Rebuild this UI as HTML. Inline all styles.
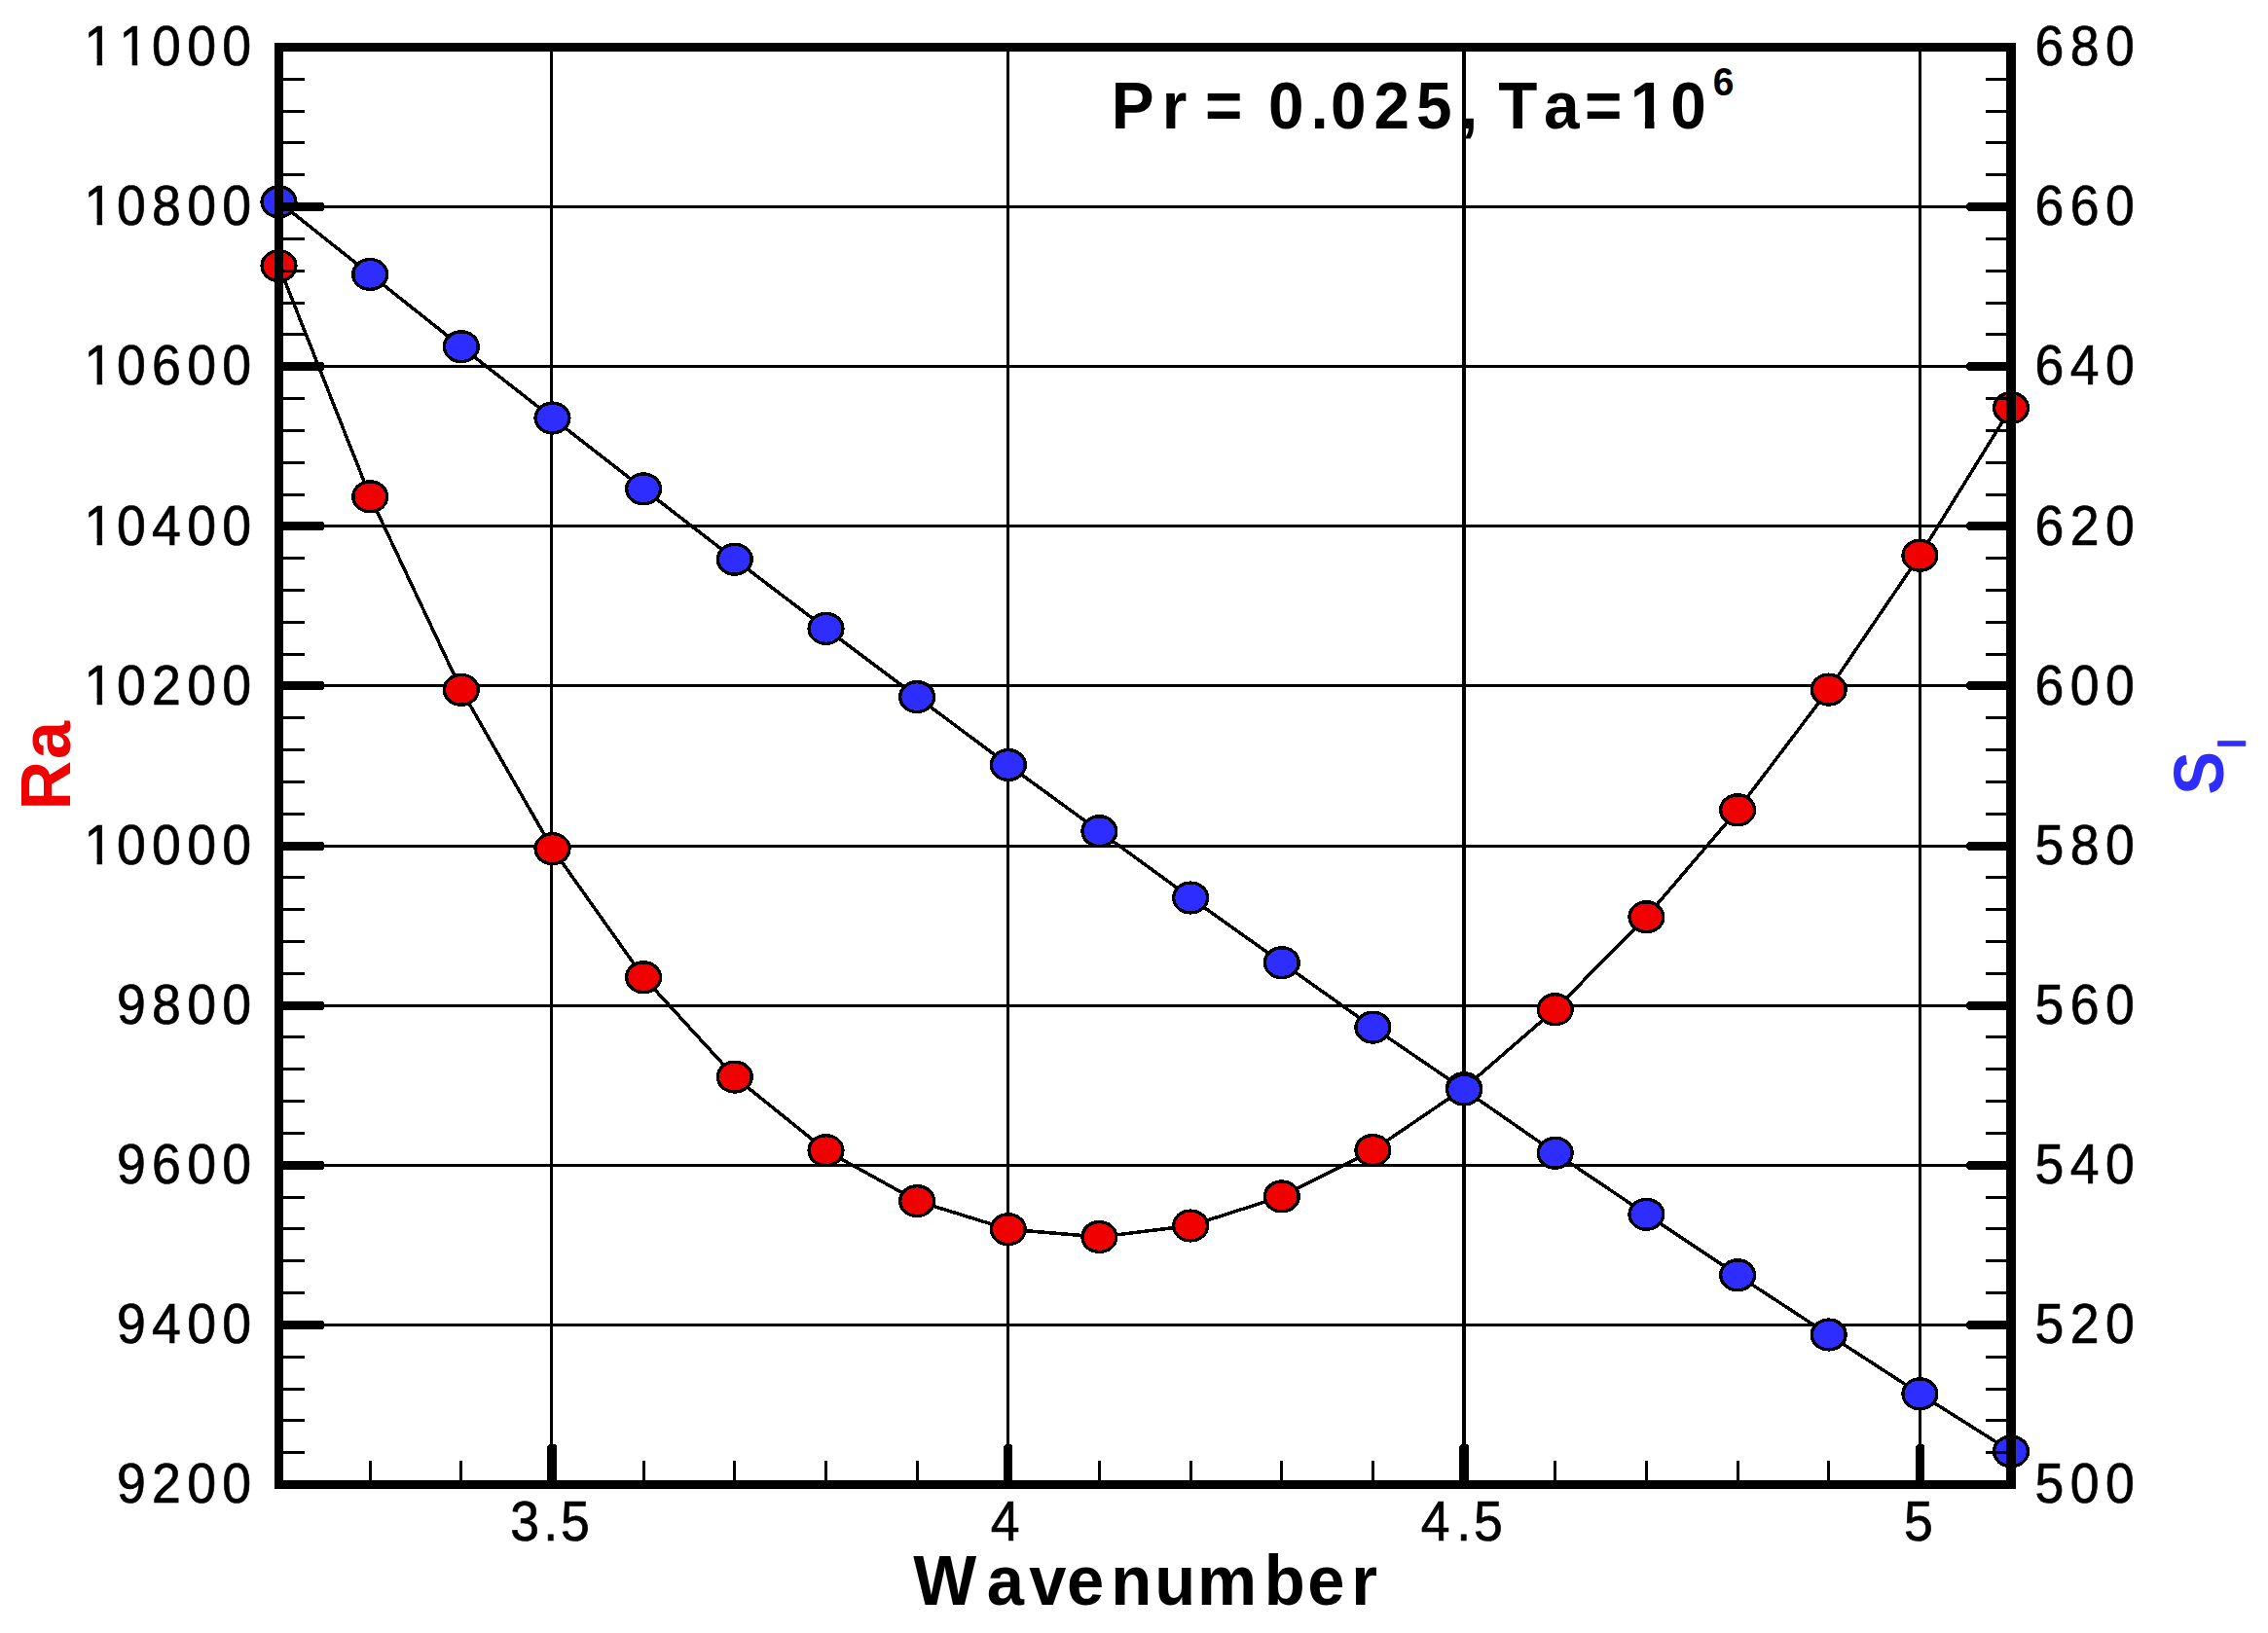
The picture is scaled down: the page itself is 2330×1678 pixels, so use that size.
<!DOCTYPE html>
<html lang="en"><head><meta charset="utf-8"><title>Ra and S_I versus Wavenumber</title>
<style>html,body{margin:0;padding:0;background:#fff;overflow:hidden}svg{display:block}text{font-family:"Liberation Sans",sans-serif;white-space:pre}.t{font-size:58px;fill:#000;stroke:#000;stroke-width:0.7px}.b{font-weight:bold}</style></head><body>
<svg width="2330" height="1678" viewBox="0 0 2330 1678">
<rect width="2330" height="1678" fill="#fff"/>
<defs>
<clipPath id="c1"><rect x="-10" y="-60" width="300" height="53.8"/><rect x="34.64" y="-8" width="300" height="14"/><rect x="13.94" y="-8" width="5.83" height="10"/></clipPath>
<clipPath id="c11"><rect x="-10" y="-60" width="300" height="53.8"/><rect x="73.04" y="-8" width="300" height="14"/><rect x="13.94" y="-8" width="5.83" height="10"/><rect x="52.34" y="-8" width="5.83" height="10"/></clipPath>
</defs>
<g fill="#000" shape-rendering="crispEdges">
<rect x="291" y="211" width="1770" height="3"/>
<rect x="291" y="375" width="1770" height="3"/>
<rect x="291" y="539" width="1770" height="3"/>
<rect x="291" y="703" width="1770" height="3"/>
<rect x="291" y="868" width="1770" height="3"/>
<rect x="291" y="1032" width="1770" height="3"/>
<rect x="291" y="1196" width="1770" height="3"/>
<rect x="291" y="1360" width="1770" height="3"/>
<rect x="565" y="53" width="3" height="1468"/>
<rect x="1034" y="53" width="3" height="1468"/>
<rect x="1502" y="53" width="4" height="1468"/>
<rect x="1971" y="53" width="3" height="1468"/>
</g>
<g fill="none" stroke="#000" stroke-width="3.5" stroke-linejoin="round" shape-rendering="crispEdges">
<polyline points="286.5,273.1 380.2,510.3 473.8,708.8 567.5,872.1 661.1,1004.2 754.8,1106.6 848.5,1182.2 942.1,1234.1 1035.8,1263.2 1129.4,1271.0 1223.1,1259.5 1316.8,1229.4 1410.4,1182.0 1504.1,1118.2 1597.7,1037.2 1691.4,942.2 1785.1,832.3 1878.7,708.6 1972.4,570.7 2066.0,419.1"/>
<polyline points="286.5,207.4 380.2,281.9 473.8,356.2 567.5,429.5 661.1,502.4 754.8,574.7 848.5,645.9 942.1,716.1 1035.8,786.0 1129.4,854.2 1223.1,922.5 1316.8,989.2 1410.4,1055.6 1504.1,1119.6 1597.7,1184.7 1691.4,1247.8 1785.1,1310.3 1878.7,1371.5 1972.4,1432.3 2066.0,1491.4"/>
</g>
<g stroke="#000" stroke-width="3.4" fill="#f00000" shape-rendering="crispEdges">
<ellipse cx="286.5" cy="273.1" rx="17.4" ry="15.4"/>
<ellipse cx="380.2" cy="510.3" rx="17.4" ry="15.4"/>
<ellipse cx="473.8" cy="708.8" rx="17.4" ry="15.4"/>
<ellipse cx="567.5" cy="872.1" rx="17.4" ry="15.4"/>
<ellipse cx="661.1" cy="1004.2" rx="17.4" ry="15.4"/>
<ellipse cx="754.8" cy="1106.6" rx="17.4" ry="15.4"/>
<ellipse cx="848.5" cy="1182.2" rx="17.4" ry="15.4"/>
<ellipse cx="942.1" cy="1234.1" rx="17.4" ry="15.4"/>
<ellipse cx="1035.8" cy="1263.2" rx="17.4" ry="15.4"/>
<ellipse cx="1129.4" cy="1271.0" rx="17.4" ry="15.4"/>
<ellipse cx="1223.1" cy="1259.5" rx="17.4" ry="15.4"/>
<ellipse cx="1316.8" cy="1229.4" rx="17.4" ry="15.4"/>
<ellipse cx="1410.4" cy="1182.0" rx="17.4" ry="15.4"/>
<ellipse cx="1504.1" cy="1118.2" rx="17.4" ry="15.4"/>
<ellipse cx="1597.7" cy="1037.2" rx="17.4" ry="15.4"/>
<ellipse cx="1691.4" cy="942.2" rx="17.4" ry="15.4"/>
<ellipse cx="1785.1" cy="832.3" rx="17.4" ry="15.4"/>
<ellipse cx="1878.7" cy="708.6" rx="17.4" ry="15.4"/>
<ellipse cx="1972.4" cy="570.7" rx="17.4" ry="15.4"/>
<ellipse cx="2066.0" cy="419.1" rx="17.4" ry="15.4"/>
</g>
<g stroke="#000" stroke-width="3.4" fill="#2d2dff" shape-rendering="crispEdges">
<ellipse cx="286.5" cy="207.4" rx="17.4" ry="15.4"/>
<ellipse cx="380.2" cy="281.9" rx="17.4" ry="15.4"/>
<ellipse cx="473.8" cy="356.2" rx="17.4" ry="15.4"/>
<ellipse cx="567.5" cy="429.5" rx="17.4" ry="15.4"/>
<ellipse cx="661.1" cy="502.4" rx="17.4" ry="15.4"/>
<ellipse cx="754.8" cy="574.7" rx="17.4" ry="15.4"/>
<ellipse cx="848.5" cy="645.9" rx="17.4" ry="15.4"/>
<ellipse cx="942.1" cy="716.1" rx="17.4" ry="15.4"/>
<ellipse cx="1035.8" cy="786.0" rx="17.4" ry="15.4"/>
<ellipse cx="1129.4" cy="854.2" rx="17.4" ry="15.4"/>
<ellipse cx="1223.1" cy="922.5" rx="17.4" ry="15.4"/>
<ellipse cx="1316.8" cy="989.2" rx="17.4" ry="15.4"/>
<ellipse cx="1410.4" cy="1055.6" rx="17.4" ry="15.4"/>
<ellipse cx="1504.1" cy="1119.6" rx="17.4" ry="15.4"/>
<ellipse cx="1597.7" cy="1184.7" rx="17.4" ry="15.4"/>
<ellipse cx="1691.4" cy="1247.8" rx="17.4" ry="15.4"/>
<ellipse cx="1785.1" cy="1310.3" rx="17.4" ry="15.4"/>
<ellipse cx="1878.7" cy="1371.5" rx="17.4" ry="15.4"/>
<ellipse cx="1972.4" cy="1432.3" rx="17.4" ry="15.4"/>
<ellipse cx="2066.0" cy="1491.4" rx="17.4" ry="15.4"/>
</g>
<g fill="#000" shape-rendering="crispEdges">
<rect x="282" y="44" width="1789" height="9"/>
<rect x="282" y="1521" width="1789" height="9"/>
<rect x="282" y="44" width="9" height="1486"/>
<rect x="2061" y="44" width="10" height="1486"/>
<rect x="291" y="80" width="22" height="3"/>
<rect x="2040" y="80" width="21" height="3"/>
<rect x="291" y="113" width="22" height="3"/>
<rect x="2040" y="113" width="21" height="3"/>
<rect x="291" y="145" width="22" height="3"/>
<rect x="2040" y="145" width="21" height="3"/>
<rect x="291" y="178" width="22" height="3"/>
<rect x="2040" y="178" width="21" height="3"/>
<polygon points="291,208 331,208 333,210 333,215 331,217 291,217"/>
<polygon points="2061,208 2022,208 2020,210 2020,215 2022,217 2061,217"/>
<rect x="291" y="244" width="22" height="3"/>
<rect x="2040" y="244" width="21" height="3"/>
<rect x="291" y="277" width="22" height="3"/>
<rect x="2040" y="277" width="21" height="3"/>
<rect x="291" y="310" width="22" height="3"/>
<rect x="2040" y="310" width="21" height="3"/>
<rect x="291" y="342" width="22" height="3"/>
<rect x="2040" y="342" width="21" height="3"/>
<polygon points="291,372 331,372 333,374 333,379 331,381 291,381"/>
<polygon points="2061,372 2022,372 2020,374 2020,379 2022,381 2061,381"/>
<rect x="291" y="408" width="22" height="3"/>
<rect x="2040" y="408" width="21" height="3"/>
<rect x="291" y="441" width="22" height="3"/>
<rect x="2040" y="441" width="21" height="3"/>
<rect x="291" y="474" width="22" height="3"/>
<rect x="2040" y="474" width="21" height="3"/>
<rect x="291" y="507" width="22" height="3"/>
<rect x="2040" y="507" width="21" height="3"/>
<polygon points="291,536 331,536 333,538 333,543 331,545 291,545"/>
<polygon points="2061,536 2022,536 2020,538 2020,543 2022,545 2061,545"/>
<rect x="291" y="572" width="22" height="3"/>
<rect x="2040" y="572" width="21" height="3"/>
<rect x="291" y="605" width="22" height="3"/>
<rect x="2040" y="605" width="21" height="3"/>
<rect x="291" y="638" width="22" height="3"/>
<rect x="2040" y="638" width="21" height="3"/>
<rect x="291" y="671" width="22" height="3"/>
<rect x="2040" y="671" width="21" height="3"/>
<polygon points="291,700 331,700 333,702 333,707 331,709 291,709"/>
<polygon points="2061,700 2022,700 2020,702 2020,707 2022,709 2061,709"/>
<rect x="291" y="736" width="22" height="3"/>
<rect x="2040" y="736" width="21" height="3"/>
<rect x="291" y="769" width="22" height="3"/>
<rect x="2040" y="769" width="21" height="3"/>
<rect x="291" y="802" width="22" height="3"/>
<rect x="2040" y="802" width="21" height="3"/>
<rect x="291" y="835" width="22" height="3"/>
<rect x="2040" y="835" width="21" height="3"/>
<polygon points="291,865 331,865 333,867 333,872 331,874 291,874"/>
<polygon points="2061,865 2022,865 2020,867 2020,872 2022,874 2061,874"/>
<rect x="291" y="900" width="22" height="3"/>
<rect x="2040" y="900" width="21" height="3"/>
<rect x="291" y="933" width="22" height="3"/>
<rect x="2040" y="933" width="21" height="3"/>
<rect x="291" y="966" width="22" height="3"/>
<rect x="2040" y="966" width="21" height="3"/>
<rect x="291" y="999" width="22" height="3"/>
<rect x="2040" y="999" width="21" height="3"/>
<polygon points="291,1029 331,1029 333,1031 333,1036 331,1038 291,1038"/>
<polygon points="2061,1029 2022,1029 2020,1031 2020,1036 2022,1038 2061,1038"/>
<rect x="291" y="1064" width="22" height="3"/>
<rect x="2040" y="1064" width="21" height="3"/>
<rect x="291" y="1097" width="22" height="3"/>
<rect x="2040" y="1097" width="21" height="3"/>
<rect x="291" y="1130" width="22" height="3"/>
<rect x="2040" y="1130" width="21" height="3"/>
<rect x="291" y="1163" width="22" height="3"/>
<rect x="2040" y="1163" width="21" height="3"/>
<polygon points="291,1193 331,1193 333,1195 333,1200 331,1202 291,1202"/>
<polygon points="2061,1193 2022,1193 2020,1195 2020,1200 2022,1202 2061,1202"/>
<rect x="291" y="1229" width="22" height="3"/>
<rect x="2040" y="1229" width="21" height="3"/>
<rect x="291" y="1261" width="22" height="3"/>
<rect x="2040" y="1261" width="21" height="3"/>
<rect x="291" y="1294" width="22" height="3"/>
<rect x="2040" y="1294" width="21" height="3"/>
<rect x="291" y="1327" width="22" height="3"/>
<rect x="2040" y="1327" width="21" height="3"/>
<polygon points="291,1357 331,1357 333,1359 333,1364 331,1366 291,1366"/>
<polygon points="2061,1357 2022,1357 2020,1359 2020,1364 2022,1366 2061,1366"/>
<rect x="291" y="1393" width="22" height="3"/>
<rect x="2040" y="1393" width="21" height="3"/>
<rect x="291" y="1426" width="22" height="3"/>
<rect x="2040" y="1426" width="21" height="3"/>
<rect x="291" y="1458" width="22" height="3"/>
<rect x="2040" y="1458" width="21" height="3"/>
<rect x="291" y="1491" width="22" height="3"/>
<rect x="2040" y="1491" width="21" height="3"/>
<rect x="379" y="1501" width="3" height="20"/>
<rect x="472" y="1501" width="3" height="20"/>
<polygon points="562,1521 562,1486 564,1484 570,1484 572,1486 572,1521"/>
<rect x="660" y="1501" width="3" height="20"/>
<rect x="753" y="1501" width="3" height="20"/>
<rect x="847" y="1501" width="3" height="20"/>
<rect x="941" y="1501" width="3" height="20"/>
<polygon points="1031,1521 1031,1486 1033,1484 1038,1484 1040,1486 1040,1521"/>
<rect x="1128" y="1501" width="3" height="20"/>
<rect x="1222" y="1501" width="3" height="20"/>
<rect x="1315" y="1501" width="3" height="20"/>
<rect x="1409" y="1501" width="3" height="20"/>
<polygon points="1499,1521 1499,1486 1501,1484 1507,1484 1509,1486 1509,1521"/>
<rect x="1596" y="1501" width="3" height="20"/>
<rect x="1690" y="1501" width="3" height="20"/>
<rect x="1784" y="1501" width="3" height="20"/>
<rect x="1877" y="1501" width="3" height="20"/>
<polygon points="1968,1521 1968,1486 1970,1484 1975,1484 1977,1486 1977,1521"/>
</g>
<g class="t">
<text class="t" style="font-size:57px" transform="translate(86.5,67.2) scale(0.94,1)" x="0.0 38.4 74.0 112.4 150.9" y="0" clip-path="url(#c11)">11000</text>
<text class="t" style="font-size:57px" transform="translate(86.5,231.3) scale(0.94,1)" x="0.0 35.6 74.0 112.4 150.9" y="0" clip-path="url(#c1)">10800</text>
<text class="t" style="font-size:57px" transform="translate(86.5,395.4) scale(0.94,1)" x="0.0 35.6 74.0 112.4 150.9" y="0" clip-path="url(#c1)">10600</text>
<text class="t" style="font-size:57px" transform="translate(86.5,559.5) scale(0.94,1)" x="0.0 35.6 74.0 112.4 150.9" y="0" clip-path="url(#c1)">10400</text>
<text class="t" style="font-size:57px" transform="translate(86.5,723.6) scale(0.94,1)" x="0.0 35.6 74.0 112.4 150.9" y="0" clip-path="url(#c1)">10200</text>
<text class="t" style="font-size:57px" transform="translate(86.5,887.7) scale(0.94,1)" x="0.0 35.6 74.0 112.4 150.9" y="0" clip-path="url(#c1)">10000</text>
<text class="t" style="font-size:57px" transform="translate(120.0,1051.8) scale(0.94,1)" x="0.0 38.4 76.8 115.2" y="0">9800</text>
<text class="t" style="font-size:57px" transform="translate(120.0,1215.9) scale(0.94,1)" x="0.0 38.4 76.8 115.2" y="0">9600</text>
<text class="t" style="font-size:57px" transform="translate(120.0,1380.0) scale(0.94,1)" x="0.0 38.4 76.8 115.2" y="0">9400</text>
<text class="t" style="font-size:57px" transform="translate(120.0,1544.1) scale(0.94,1)" x="0.0 38.4 76.8 115.2" y="0">9200</text>
<text class="t" style="font-size:57px" transform="translate(2090.4,67.2) scale(0.94,1)" x="0.0 38.6 77.2" y="0">680</text>
<text class="t" style="font-size:57px" transform="translate(2090.4,231.3) scale(0.94,1)" x="0.0 38.6 77.2" y="0">660</text>
<text class="t" style="font-size:57px" transform="translate(2090.4,395.4) scale(0.94,1)" x="0.0 38.6 77.2" y="0">640</text>
<text class="t" style="font-size:57px" transform="translate(2090.4,559.5) scale(0.94,1)" x="0.0 38.6 77.2" y="0">620</text>
<text class="t" style="font-size:57px" transform="translate(2090.4,723.6) scale(0.94,1)" x="0.0 38.6 77.2" y="0">600</text>
<text class="t" style="font-size:57px" transform="translate(2090.4,887.7) scale(0.94,1)" x="0.0 38.6 77.2" y="0">580</text>
<text class="t" style="font-size:57px" transform="translate(2090.4,1051.8) scale(0.94,1)" x="0.0 38.6 77.2" y="0">560</text>
<text class="t" style="font-size:57px" transform="translate(2090.4,1215.9) scale(0.94,1)" x="0.0 38.6 77.2" y="0">540</text>
<text class="t" style="font-size:57px" transform="translate(2090.4,1380.0) scale(0.94,1)" x="0.0 38.6 77.2" y="0">520</text>
<text class="t" style="font-size:57px" transform="translate(2090.4,1544.1) scale(0.94,1)" x="0.0 38.6 77.2" y="0">500</text>
<text class="t" style="font-size:57px" transform="translate(524.2,1583.2) scale(0.94,1)" x="0.0 36.3 55.2" y="0">3.5</text>
<text class="t" style="font-size:57px" transform="translate(1017.8,1583.2) scale(0.94,1)" x="0.0" y="0">4</text>
<text class="t" style="font-size:57px" transform="translate(1459.8,1583.2) scale(0.94,1)" x="0.0 38.8 57.6" y="0">4.5</text>
<text class="t" style="font-size:57px" transform="translate(1956.0,1583.2) scale(0.94,1)" x="0.0" y="0">5</text>
</g>
<clipPath id="ct"><rect x="-10" y="-80" width="800" height="71.4"/><rect x="-10" y="-10" width="574.55" height="42"/><rect x="577.05" y="-10" width="10.09" height="11"/><rect x="598.35" y="-10" width="300" height="42"/></clipPath>
<text class="b" style="font-size:69.2px" transform="translate(1141.7,132) scale(0.95,1)" x="0.0 54.7 81.6 101.4 141.9 169.7 215.6 237.2 283.9 329.7 377.2 396.4 418.5 467.7 512.0 561.2 604.9" y="0" clip-path="url(#ct)">Pr = 0.025, Ta=10<tspan style="font-size:41px" x="650.7" y="-34.4">6</tspan></text>
<text class="b" style="font-size:72.4px" transform="translate(938.2,1649) scale(0.95,1)" x="0.0 79.5 125.4 166.2 213.7 261.1 307.2 379.6 426.4 473.7" y="0">Wavenumber</text>
<text class="b" style="font-size:72.4px;fill:#f00000" transform="translate(72.1,827.9) rotate(-90) scale(0.97,1)" x="-4.8 49.3" y="0">Ra</text>
<text class="b" style="font-size:72.4px;fill:#2d2dff" transform="translate(2283.9,814.9) rotate(-90) scale(0.926,1)" x="-2.1" y="0">S<tspan style="font-size:42.5px" x="49.0" y="23.1">I</tspan></text>
</svg></body></html>
